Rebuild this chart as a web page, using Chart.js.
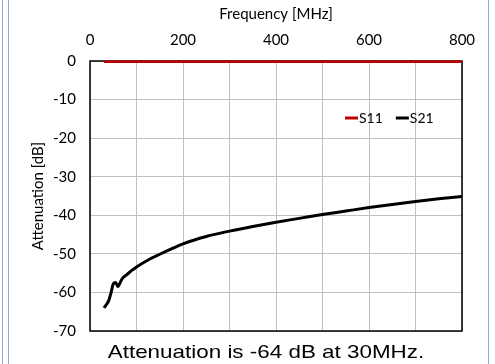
<!DOCTYPE html>
<html>
<head>
<meta charset="utf-8">
<script src="https://cdn.jsdelivr.net/npm/chart.js@4.4.1/dist/chart.umd.min.js"></script>
<style>
  html, body { margin: 0; padding: 0; background: #fff; }
  #wrap { position: relative; width: 495px; height: 364px; overflow: hidden; }
  #c { position: absolute; left: 0; top: 0; }
  .frame { position: absolute; top: 0; height: 364px; width: 1px; background: #8ea9db; }
  #caption { position: absolute; left: 66px; top: 342px; width: 400px; text-align: center;
             font-family: "Liberation Sans", Arial, sans-serif; font-size: 19px; line-height: 19px; color: #000;
             white-space: nowrap; transform: scaleX(1.18); transform-origin: 50% 50%; }
</style>
</head>
<body>
<div id="wrap">
  <canvas id="c" width="495" height="364"></canvas>
  <div class="frame" style="left:2px"></div>
  <div class="frame" style="left:8px"></div>
  <div class="frame" style="left:488px"></div>
  <div id="caption">Attenuation is -64 dB at 30MHz.</div>
</div>
<script>
// Frequencies (MHz)
const freqs = [30, 35, 40, 45, 50, 55, 60, 65, 70, 80, 90, 100, 125, 150, 175, 200, 250, 300, 350, 400, 450, 500, 550, 600, 650, 700, 750, 800];
// S21 attenuation (dB)
const s21 = [-64.0, -63.2, -62.2, -60.2, -57.8, -57.4, -58.5, -57.4, -56.3, -55.3, -54.3, -53.4, -51.6, -50.1, -48.7, -47.4, -45.5, -44.1, -42.9, -41.8, -40.8, -39.8, -38.9, -38.0, -37.2, -36.4, -35.7, -35.1];
// S11 (dB)
const s11 = [-0.2, -0.2, -0.2, -0.2, -0.2, -0.2, -0.2, -0.2, -0.2, -0.2, -0.2, -0.2, -0.2, -0.2, -0.2, -0.2, -0.2, -0.2, -0.2, -0.2, -0.2, -0.2, -0.2, -0.2, -0.2, -0.2, -0.2, -0.2];
const seriesNames = ['S11', 'S21'];
const xTitle = 'Frequency [MHz]';
const yTitle = 'Attenuation [dB]';

const toPts = (ys) => freqs.map((f, i) => ({ x: f, y: ys[i] }));

const FONT = 'Lato, "Open Sans", sans-serif';

const boxPlugin = {
  id: 'plotBox',
  beforeDatasetsDraw(chart) {
    const { ctx, chartArea: a } = chart;
    ctx.save();
    ctx.strokeStyle = '#000';
    ctx.lineWidth = 1.5;
    ctx.strokeRect(a.left, a.top, a.right - a.left, a.bottom - a.top);
    ctx.restore();
  },
  afterDatasetsDraw(chart) {
    // in-plot legend (line marker + label), like the original
    const { ctx } = chart;
    ctx.save();
    ctx.font = '14px ' + FONT;
    ctx.textBaseline = 'middle';
    ctx.textAlign = 'left';
    let x = 345;
    const y = 118;
    chart.data.datasets.forEach((ds) => {
      ctx.strokeStyle = ds.borderColor;
      ctx.lineWidth = 3;
      ctx.beginPath();
      ctx.moveTo(x, y);
      ctx.lineTo(x + 13, y);
      ctx.stroke();
      x += 14;
      ctx.fillStyle = '#000';
      ctx.fillText(ds.label, x, y + 0.5);
      x += ctx.measureText(ds.label).width + 13;
    });
    ctx.restore();
  }
};

const tickFont = { family: FONT, size: 15 };
const titleFont = { family: FONT, size: 15 };

new Chart(document.getElementById('c'), {
  type: 'line',
  data: {
    datasets: [
      { label: seriesNames[0], data: toPts(s11), borderColor: '#c00000', backgroundColor: '#c00000', borderWidth: 2.5, pointRadius: 0, clip: false },
      { label: seriesNames[1], data: toPts(s21), borderColor: '#000000', backgroundColor: '#000000', borderWidth: 3, pointRadius: 0, cubicInterpolationMode: 'monotone' }
    ]
  },
  options: {
    responsive: false,
    animation: false,
    layout: { padding: { left: 0, top: 0, right: 33, bottom: 33 } },
    plugins: {
      legend: { display: false },
      tooltip: { enabled: false }
    },
    scales: {
      x: {
        type: 'linear', position: 'top', min: 0, max: 800,
        ticks: { stepSize: 100, autoSkip: false, maxRotation: 0, padding: 12, color: '#000', font: tickFont,
                 callback: (v) => (v % 200 === 0 ? String(v) : '') },
        grid: { color: '#bfbfbf', lineWidth: 1, drawTicks: false },
        border: { display: false },
        title: { display: true, text: xTitle, color: '#000', font: titleFont, padding: { top: 5, bottom: 0 } },
        afterFit: (s) => { s.height = 61; }
      },
      y: {
        type: 'linear', min: -70, max: 0,
        ticks: { stepSize: 10, padding: 14, color: '#000', font: tickFont },
        grid: { color: '#bfbfbf', lineWidth: 1, drawTicks: false },
        border: { display: false },
        title: { display: true, text: yTitle, color: '#000', font: titleFont, padding: { top: 29, bottom: 0 } },
        afterFit: (s) => { s.width = 90; }
      }
    }
  },
  plugins: [boxPlugin]
});
</script>
</body>
</html>
